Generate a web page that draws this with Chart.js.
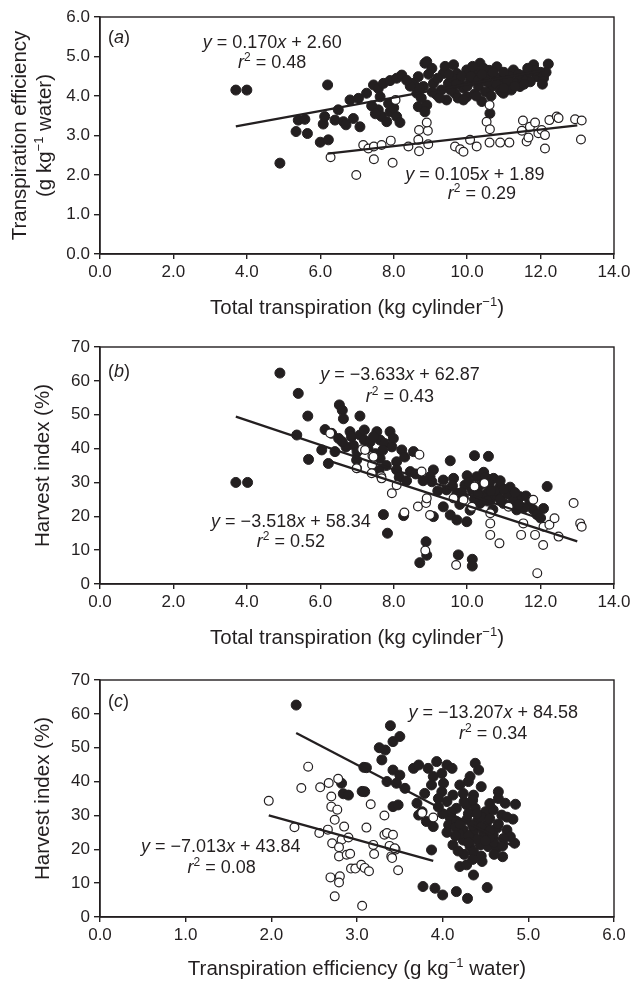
<!DOCTYPE html>
<html><head><meta charset="utf-8">
<script src="https://cdn.jsdelivr.net/npm/chart.js@4.4.1/dist/chart.umd.min.js"></script>
<style>
body{margin:0;background:#fff;width:638px;height:983px;position:relative;overflow:hidden}
.p{position:absolute;left:0;width:638px}
canvas{display:block}
</style></head>
<body>
<div class="p" style="top:0;height:330px"><canvas id="ca" width="638" height="330"></canvas></div>
<div class="p" style="top:330px;height:320px"><canvas id="cb" width="638" height="320"></canvas></div>
<div class="p" style="top:650px;height:333px"><canvas id="cc" width="638" height="333"></canvas></div>
<script>
// ---------- Panel (a): transpiration efficiency vs total transpiration ----------
const aFilledX = [3.7,4.0,4.9,5.34,5.4,5.58,5.65,6.0,6.22,6.08,6.12,6.2,6.4,6.49,6.63,6.7,6.9,7.08,6.81,7.04,7.26,7.45,7.58,7.72,7.9,8.08,8.22,7.63,7.58,7.67,7.81,7.9,8.08,8.17,7.86,7.4,7.5,8.0,
 8.54,8.67,8.85,8.9,9.04,8.63,8.81,8.67,8.9,8.75,9.08,9.17,9.35,9.49,9.44,9.3,9.63,9.72,9.81,9.67,9.6,9.99,10.08,9.99,9.9,10.22,10.35,10.49,10.31,10.4,10.2,10.62,10.67,10.81,10.9,10.99,11.08,11.26,11.35,11.44,11.62,11.81,11.9,12.08,12.21,11.72,10.5,10.6,10.75,11.15,11.5,11.2,11.7,12.0,9.2,8.95,9.55,9.85,10.1,10.0,10.8,11.0,11.55,11.85,9.4,10.45,10.15,11.1,10.65,10.3,9.7,9.05,8.7,8.45,8.35,10.9,11.3,10.55,11.65,12.05,8.85,9.25,9.75,10.95,
 9.5,10.7,11.4,11.0,10.25,9.9,10.4,12.15];
const aFilledY = [4.15,4.15,2.3,3.1,3.39,3.41,3.05,2.83,2.89,3.29,3.48,4.28,3.39,3.65,3.35,3.27,3.43,3.22,3.9,3.94,4.07,4.28,4.19,4.32,4.39,4.45,4.53,3.98,3.65,3.48,3.35,3.6,3.48,3.33,3.81,3.75,3.55,3.7,
 4.32,4.49,4.83,4.87,4.7,4.07,4.24,3.73,3.77,3.95,4.32,4.03,4.57,4.32,3.9,4.15,4.79,4.57,4.32,4.07,4.45,4.66,4.36,3.98,4.2,4.62,4.83,4.49,4.24,3.86,4.05,3.56,4.24,4.74,4.45,4.07,4.32,4.66,4.36,4.24,4.57,4.79,4.49,4.45,4.81,4.36,4.1,4.65,4.5,4.5,4.45,4.15,4.6,4.6,4.45,4.55,4.15,4.5,4.5,4.25,4.3,4.6,4.3,4.65,4.75,4.7,4.75,4.4,4.0,4.4,4.3,4.1,4.2,4.25,4.4,4.15,4.25,4.35,4.7,4.3,3.6,3.95,3.95,4.1,
 4.55,4.6,4.55,4.2,4.0,3.9,4.55,4.6];
const aOpenX = [6.28,6.98,7.17,7.31,7.46,7.46,7.67,7.92,7.97,8.05,8.4,8.67,8.69,8.93,8.9,8.69,8.94,9.67,9.81,9.9,10.08,10.26,10.53,10.61,10.62,10.61,10.9,11.15,11.52,11.49,11.62,11.67,11.71,11.85,11.94,12.03,12.12,12.12,12.24,12.44,12.49,12.94,13.12,13.1];
const aOpenY = [2.45,2.0,2.76,2.67,2.72,2.4,2.76,2.87,2.31,3.9,2.72,2.89,3.14,3.12,3.33,2.6,2.78,2.72,2.65,2.59,2.89,2.72,3.35,3.77,3.16,2.82,2.82,2.82,3.38,3.12,2.85,2.95,3.22,3.33,3.06,3.14,3.01,2.67,3.39,3.48,3.44,3.41,3.38,2.9];
const aLineX = [[3.7,12.1],[6.2,13.0]];
const aSlope = [0.170,0.105], aIntercept = [2.60,1.89];
const aXTicks = {min:0,max:14,step:2}, aYTicks = {min:0,max:6,step:1};

// ---------- Panel (b): harvest index vs total transpiration ----------
const bFilledX = [3.7,4.02,4.9,5.4,5.36,5.66,5.68,6.04,6.13,6.22,6.31,6.4,6.52,6.6,6.63,6.81,6.9,6.99,7.08,7.08,7.2,7.36,7.54,7.5,7.63,7.63,7.9,7.99,8.08,8.22,8.08,8.54,8.45,7.72,7.83,8.27,8.71,8.88,8.9,9.08,8.99,9.04,9.08,9.35,9.35,9.44,9.54,9.54,9.63,9.72,9.72,9.76,9.94,9.99,10.08,10.13,10.14,10.14,10.2,10.26,10.35,10.44,10.54,10.58,10.63,10.72,10.81,10.9,10.99,11.17,11.35,11.44,11.71,12.08,12.18,8.8,9.2,9.9,10.0,10.3,10.6,10.45,10.75,10.9,11.1,11.25,11.55,11.8,10.4,10.2,9.8,10.7,6.5,6.7,7.0,7.3,7.75,7.8,8.15,8.6,8.35,7.6,11.9,12.0,
 9.6,10.05,10.5,10.9,11.3,10.65,10.3,9.85,11.0,10.55,11.6,11.4,7.2,7.45,6.85,7.7,7.95,6.6,8.3];
const bFilledY = [30,30,62.3,56.3,44.0,49.6,36.8,39.6,45.6,35.6,44.5,39.1,52.9,51.3,48.8,45.0,41.0,36.6,49.6,44.0,42.5,42.0,45.0,38.5,42.5,37.1,45.0,43.0,36.1,39.6,33.7,39.1,33.2,20.5,15.0,20.2,6.3,12.5,8.5,33.7,31.7,30.2,19.9,30.7,22.8,27.8,36.4,20.4,31.2,26.8,18.9,8.6,29.2,18.4,21.8,27.8,7.3,5.3,37.9,31.7,23.8,29.7,26.8,37.7,24.8,31.2,26.3,28.8,23.8,28.6,21.9,25.8,24.3,22.3,28.8,30.5,27.5,25.5,32.0,28.5,29.5,33.0,27.5,25.0,26.5,24.5,22.5,22.0,26.0,25.0,23.5,22.0,43.0,40.5,39.0,40.0,41.5,35.0,31.5,32.5,30.5,33.5,20.5,19.5,
 29,30,31.5,30.5,27,27.5,26.5,27,28,24.5,26,23.5,45.5,43.5,43.5,39.5,40.5,42,37.5];
const bOpenX = [6.27,7.14,7.42,7.41,7.0,7.66,7.22,7.45,6.99,7.4,7.67,7.95,8.08,8.7,8.76,8.29,8.66,8.88,8.9,8.99,8.86,9.63,9.7,9.9,10.13,10.2,10.47,10.63,10.63,10.63,10.88,11.13,11.47,11.53,11.8,11.85,11.91,12.07,12.08,12.24,12.38,12.49,12.9,13.08,13.12];
const bOpenY = [44.5,39.8,37.9,35.2,34.2,31.8,39.6,37.6,34.2,32.7,31.2,26.8,29.2,38.2,33.2,21.1,22.9,23.9,25.3,20.4,9.9,25.3,5.6,24.8,22.8,28.8,29.8,20.9,17.9,14.5,12.0,22.8,14.5,17.9,24.9,14.5,3.2,11.5,16.9,17.5,19.4,14.0,23.9,17.9,16.9];
const bLineX = [[3.7,12.1],[6.2,13.0]];
const bSlope = [-3.633,-3.518], bIntercept = [62.87,58.34];
const bXTicks = {min:0,max:14,step:2}, bYTicks = {min:0,max:70,step:10};

// ---------- Panel (c): harvest index vs transpiration efficiency ----------
const cFilledX = [2.29,2.82,2.84,2.9,3.08,3.06,3.09,3.11,3.26,3.29,3.33,3.39,3.42,3.5,3.42,3.5,3.35,3.46,3.56,3.42,3.48,3.66,3.72,3.83,3.93,4.05,4.11,3.99,3.89,3.87,4.01,3.99,3.79,4.38,4.42,4.32,4.3,4.12,4.24,4.36,3.7,3.76,3.72,3.81,3.89,4.05,4.16,4.28,4.38,4.5,4.59,4.65,4.73,4.85,4.69,4.82,4.09,4.07,4.16,4.28,4.4,4.51,4.63,4.75,4.84,4.79,4.71,4.59,4.48,4.36,4.24,4.12,4.24,4.32,4.44,4.53,4.63,4.7,4.46,4.36,4.2,4.28,4.36,3.87,3.77,3.91,4.0,4.16,4.29,4.52,4.2,4.3,4.45,4.55,4.4,4.5,4.6,4.15,4.25,4.45,4.55,4.0,3.95,4.35,4.2,3.95,4.45,
 4.1,4.2,4.3,4.35,4.45,4.55,4.65,4.7,4.6,4.5,4.4,4.25,4.15,4.05,4.3,4.55,4.65,4.75,4.35,4.18];
const cFilledY = [62.6,39.5,36.4,36.0,44.2,37.1,37.0,44.1,50.0,46.4,49.3,56.5,51.8,53.3,43.4,41.9,40.0,39.5,38.0,32.6,33.1,43.9,44.9,43.9,45.9,44.9,43.9,42.4,41.5,39.0,39.5,37.0,36.5,45.4,43.4,41.5,40.0,36.0,36.5,36.0,33.6,31.1,30.1,28.2,26.7,34.1,32.1,33.1,32.1,31.1,31.6,37.0,33.6,33.3,30.1,28.9,29.2,27.2,28.2,28.7,28.2,27.2,26.2,25.7,21.8,23.7,23.2,24.2,24.7,25.2,25.7,21.3,22.7,20.8,21.3,20.8,20.3,17.8,16.4,19.3,14.9,15.4,12.4,19.8,9.0,8.5,6.5,7.5,5.5,8.7,24.5,30.5,29.5,29.0,23.0,26.0,22.0,26.5,18.5,18.0,23.5,30.5,32.5,34.5,39.0,35.0,38.5,
 31,27.5,24,27,26.5,25.5,27.5,21,18.5,22.5,30.5,34,24,25,22,33.5,35,29.5,17,19.5];
const cOpenX = [1.97,2.27,2.35,2.43,2.56,2.57,2.66,2.67,2.7,2.7,2.74,2.77,2.78,2.71,2.82,2.79,2.79,2.85,2.9,2.88,2.92,2.93,2.98,2.69,2.8,2.79,2.74,3.06,3.05,3.09,3.14,3.11,3.16,3.32,3.19,3.2,3.32,3.35,3.42,3.4,3.41,3.48,3.45,3.76,3.89,3.38,3.44];
const cOpenY = [34.3,26.5,38.1,44.4,24.8,38.3,25.8,39.6,35.6,32.6,28.7,31.7,40.8,21.8,22.8,20.6,17.9,26.7,23.5,18.4,18.7,14.3,14.3,11.7,12.0,10.2,6.1,3.3,15.4,14.5,13.5,26.4,33.3,30.0,21.3,18.6,24.3,24.8,24.3,17.9,17.4,13.8,19.9,30.7,29.4,21.0,20.3];
const cLineX = [[2.29,4.85],[1.97,3.89]];
const cSlope = [-13.207,-7.013], cIntercept = [84.58,43.84];
const cXTicks = {min:0,max:6,step:1}, cYTicks = {min:0,max:70,step:10};

// ---------- shared drawing ----------
const INK = '#231f20';
const FAM = '"Liberation Sans", Arial, Helvetica, sans-serif';

function drawRich(ctx, segs, x, y, size, align) {
  const f = st => (st === 'i' ? 'italic ' : '') + (st === 's' ? Math.round(size * 0.64) : size) + 'px ' + FAM;
  let w = 0;
  segs.forEach(([t, st]) => { ctx.font = f(st); w += ctx.measureText(t).width; });
  let cx = align === 'center' ? x - w / 2 : x;
  ctx.textAlign = 'left'; ctx.textBaseline = 'alphabetic'; ctx.fillStyle = INK;
  segs.forEach(([t, st]) => {
    ctx.font = f(st);
    ctx.fillText(t, cx, st === 's' ? y - size * 0.38 : y);
    cx += ctx.measureText(t).width;
  });
}

function points(xs, ys) { return xs.map((x, i) => ({x: x, y: ys[i]})); }
function lines(lx, sl, ic) {
  return lx.map((r, k) => ({
    type: 'line', data: r.map(x => ({x: x, y: sl[k] * x + ic[k]})),
    borderColor: INK, borderWidth: 2.3, pointRadius: 0, showLine: true, fill: false, order: 0
  }));
}

function makeChart(id, cfg) {
  const ctxEl = document.getElementById(id);
  const H = ctxEl.height;
  const fmt = cfg.fmt;
  const plugin = {
    id: 'deco' + id,
    beforeDatasetsDraw(chart) {
      const c = chart.ctx, a = chart.chartArea;
      c.save(); c.strokeStyle = INK; c.lineWidth = 1.4;
      c.strokeRect(a.left, a.top, a.right - a.left, a.bottom - a.top);
      c.restore();
    },
    afterDraw(chart) {
      const c = chart.ctx, a = chart.chartArea, xs = chart.scales.x, ys = chart.scales.y;
      c.save();
      cfg.notes.forEach(n => drawRich(c, n.segs, xs.getPixelForValue(n.x), ys.getPixelForValue(n.y), n.size || 18, n.align || 'center'));
      drawRich(c, cfg.xTitle, (a.left + a.right) / 2, cfg.xTitleY, 20.5, 'center');
      const cy = (a.top + a.bottom) / 2;
      cfg.yTitle.forEach(l => {
        c.save(); c.translate(l.bx, cy); c.rotate(-Math.PI / 2);
        drawRich(c, l.segs, 0, 0, 20.5, 'center');
        c.restore();
      });
      c.restore();
    }
  };
  return new Chart(ctxEl, {
    type: 'scatter',
    data: {datasets: [
      ...lines(cfg.lx, cfg.sl, cfg.ic),
      {data: points(cfg.ox, cfg.oy), backgroundColor: '#fff', borderColor: INK, borderWidth: 1.2, pointRadius: 4.4, pointHoverRadius: 4.4, order: 1},
      {data: points(cfg.fx, cfg.fy), backgroundColor: INK, borderColor: INK, borderWidth: 1, pointRadius: 5.0, pointHoverRadius: 5.0, order: 2}
    ]},
    options: {
      responsive: false, animation: false, devicePixelRatio: 1,
      events: [],
      layout: {padding: {left: 0, right: 24, top: cfg.top, bottom: 0}},
      plugins: {legend: {display: false}, tooltip: {enabled: false}, title: {display: false}},
      scales: {
        x: {
          type: 'linear', min: cfg.xt.min, max: cfg.xt.max,
          ticks: {stepSize: cfg.xt.step, color: INK, padding: 3, font: {family: FAM, size: 17},
            callback: v => v.toFixed(1)},
          grid: {drawOnChartArea: false, drawTicks: true, tickLength: 5, color: INK, lineWidth: 1.4},
          border: {display: true, color: INK, width: 1.4},
          afterFit: s => { s.height = H - cfg.bottom; }
        },
        y: {
          type: 'linear', min: cfg.yt.min, max: cfg.yt.max,
          ticks: {stepSize: cfg.yt.step, color: INK, padding: 4, font: {family: FAM, size: 17},
            callback: v => fmt(v)},
          grid: {drawOnChartArea: false, drawTicks: true, tickLength: 6, color: INK, lineWidth: 1.4},
          border: {display: true, color: INK, width: 1.4},
          afterFit: s => { s.width = 100; }
        }
      }
    },
    plugins: [plugin]
  });
}

const I = 'i', N = 'n', S = 's';
makeChart('ca', {
  fx: aFilledX, fy: aFilledY, ox: aOpenX, oy: aOpenY, lx: aLineX, sl: aSlope, ic: aIntercept,
  xt: aXTicks, yt: aYTicks, fmt: v => v.toFixed(1), top: 17, bottom: 254, xTitleY: 314,
  xTitle: [['Total transpiration (kg cylinder', N], ['\u22121', S], [')', N]],
  yTitle: [{bx: 26, segs: [['Transpiration efficiency', N]]}, {bx: 50.5, segs: [['(g kg', N], ['\u22121', S], [' water)', N]]}],
  notes: [
    {x: 0.22, y: 5.34, align: 'left', segs: [['(', N], ['a', I], [')', N]]},
    {x: 4.69, y: 5.22, segs: [['y', I], [' = 0.170', N], ['x', I], [' + 2.60', N]]},
    {x: 4.69, y: 4.71, segs: [['r', I], ['2', S], [' = 0.48', N]]},
    {x: 10.21, y: 1.87, segs: [['y', I], [' = 0.105', N], ['x', I], [' + 1.89', N]]},
    {x: 10.4, y: 1.39, segs: [['r', I], ['2', S], [' = 0.29', N]]}
  ]
});
makeChart('cb', {
  fx: bFilledX, fy: bFilledY, ox: bOpenX, oy: bOpenY, lx: bLineX, sl: bSlope, ic: bIntercept,
  xt: bXTicks, yt: bYTicks, fmt: v => String(v), top: 17, bottom: 254, xTitleY: 314,
  xTitle: [['Total transpiration (kg cylinder', N], ['\u22121', S], [')', N]],
  yTitle: [{bx: 49, segs: [['Harvest index (%)', N]]}],
  notes: [
    {x: 0.22, y: 61.1, align: 'left', segs: [['(', N], ['b', I], [')', N]]},
    {x: 8.17, y: 60.2, segs: [['y', I], [' = \u22123.633', N], ['x', I], [' + 62.87', N]]},
    {x: 8.17, y: 53.8, segs: [['r', I], ['2', S], [' = 0.43', N]]},
    {x: 5.2, y: 16.8, segs: [['y', I], [' = \u22123.518', N], ['x', I], [' + 58.34', N]]},
    {x: 5.2, y: 10.9, segs: [['r', I], ['2', S], [' = 0.52', N]]}
  ]
});
makeChart('cc', {
  fx: cFilledX, fy: cFilledY, ox: cOpenX, oy: cOpenY, lx: cLineX, sl: cSlope, ic: cIntercept,
  xt: cXTicks, yt: cYTicks, fmt: v => String(v), top: 30, bottom: 267, xTitleY: 325,
  xTitle: [['Transpiration efficiency (g kg', N], ['\u22121', S], [' water)', N]],
  yTitle: [{bx: 49, segs: [['Harvest index (%)', N]]}],
  notes: [
    {x: 0.093, y: 62.0, align: 'left', segs: [['(', N], ['c', I], [')', N]]},
    {x: 4.59, y: 58.8, segs: [['y', I], [' = \u221213.207', N], ['x', I], [' + 84.58', N]]},
    {x: 4.59, y: 52.6, segs: [['r', I], ['2', S], [' = 0.34', N]]},
    {x: 1.41, y: 19.2, segs: [['y', I], [' = \u22127.013', N], ['x', I], [' + 43.84', N]]},
    {x: 1.42, y: 13.0, segs: [['r', I], ['2', S], [' = 0.08', N]]}
  ]
});
</script>
</body></html>
